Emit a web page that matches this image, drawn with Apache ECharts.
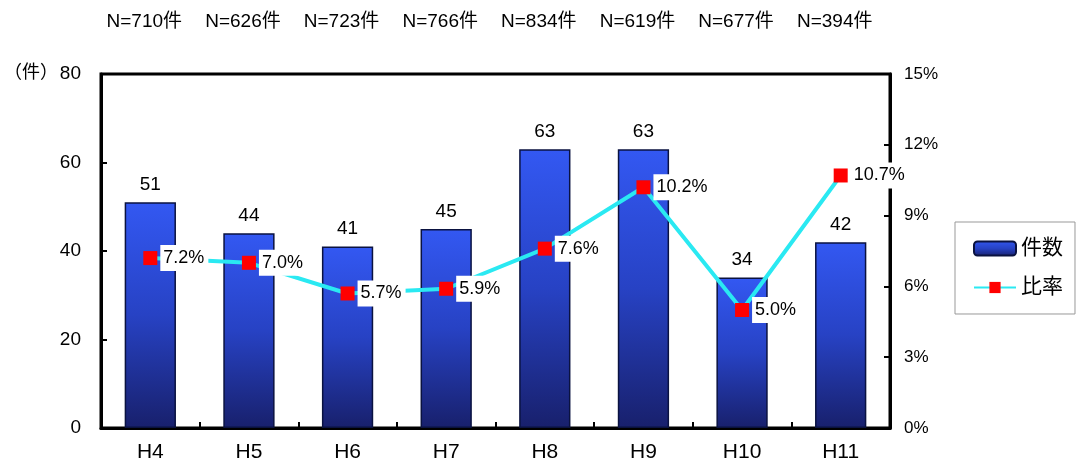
<!DOCTYPE html>
<html>
<head>
<meta charset="utf-8">
<script src="https://cdn.jsdelivr.net/npm/echarts@6/dist/echarts.min.js"></script>
<style>
  html, body { margin: 0; padding: 0; background: #fff; }
  #chart { width: 1079px; height: 473px; }
</style>
</head>
<body>
<div id="chart"></div>
<script>
// 年度別の件数と比率
const years = ['H4', 'H5', 'H6', 'H7', 'H8', 'H9', 'H10', 'H11'];
const totals = ['N=710件', 'N=626件', 'N=723件', 'N=766件', 'N=834件', 'N=619件', 'N=677件', 'N=394件'];
const counts = [51, 44, 41, 45, 63, 63, 34, 42];
const rates = [7.2, 7.0, 5.7, 5.9, 7.6, 10.2, 5.0, 10.7];
const countTicks = [0, 80, 20];   // min, max, interval
const rateTicks = [0, 15, 3];

const FONT = '"Liberation Sans", "Noto Sans CJK JP", sans-serif';

const chart = echarts.init(document.getElementById('chart'));
chart.setOption({
  animation: false,
  textStyle: { fontFamily: FONT },
  grid: {
    left: 101, right: 189, top: 74, bottom: 45,
    show: true, borderColor: '#000', borderWidth: 3, backgroundColor: 'transparent'
  },
  legend: {
    orient: 'vertical',
    left: 955, top: 222,
    padding: [16, 12, 16, 18],
    itemGap: 18,
    itemWidth: 42, itemHeight: 14,
    borderColor: '#999', borderWidth: 1,
    textStyle: { fontSize: 21, color: '#000', fontFamily: FONT },
    data: ['件数', '比率']
  },
  graphic: [{
    type: 'text', left: 4, top: 64,
    style: { text: '（件）', fontSize: 18, fill: '#000', fontFamily: FONT }
  }],
  xAxis: [{
    type: 'category',
    data: years,
    axisLine: { show: true, lineStyle: { color: '#000', width: 3 } },
    axisTick: { show: true, inside: true, length: 6, lineStyle: { color: '#000', width: 2 } },
    axisLabel: { fontSize: 21, color: '#000', margin: 14 }
  }, {
    type: 'category',
    data: totals,
    position: 'top',
    offset: 35,
    axisLine: { show: false },
    axisTick: { show: false },
    axisLabel: { fontSize: 19, color: '#000', interval: 0, padding: [0, 12, 0, 0] }
  }],
  yAxis: [{
    type: 'value',
    min: countTicks[0], max: countTicks[1], interval: countTicks[2],
    axisLine: { show: true, lineStyle: { color: '#000', width: 3 } },
    axisTick: { show: true, inside: true, length: 6, lineStyle: { color: '#000', width: 2 } },
    splitLine: { show: false },
    axisLabel: { fontSize: 19, color: '#000', margin: 20 }
  }, {
    type: 'value',
    min: rateTicks[0], max: rateTicks[1], interval: rateTicks[2],
    position: 'right',
    axisLine: { show: true, lineStyle: { color: '#000', width: 3 } },
    axisTick: { show: true, inside: true, length: 6, lineStyle: { color: '#000', width: 2 } },
    splitLine: { show: false },
    axisLabel: { fontSize: 17, color: '#000', margin: 14, formatter: '{value}%' }
  }],
  series: [{
    name: '件数',
    type: 'bar',
    data: counts,
    barWidth: '52%',
    itemStyle: {
      color: new echarts.graphic.LinearGradient(0, 0, 0, 1, [
        { offset: 0, color: '#3358f2' },
        { offset: 0.5, color: '#2742c4' },
        { offset: 1, color: '#18206c' }
      ]),
      borderColor: '#0a1240',
      borderWidth: 1.5
    },
    label: { show: true, position: 'top', distance: 8, fontSize: 19, color: '#000' }
  }, {
    name: '比率',
    type: 'line',
    yAxisIndex: 1,
    data: rates,
    z: 5,
    lineStyle: { color: '#2ae9f2', width: 4 },
    itemStyle: { color: '#ff0000' },
    symbol: 'rect',
    symbolSize: 14,
    label: {
      show: true, position: 'right', distance: 3,
      formatter: p => p.value.toFixed(1) + '%',
      fontSize: 18, color: '#000',
      backgroundColor: '#fff', padding: [4, 4, 4, 3]
    }
  }]
});
</script>
</body>
</html>
